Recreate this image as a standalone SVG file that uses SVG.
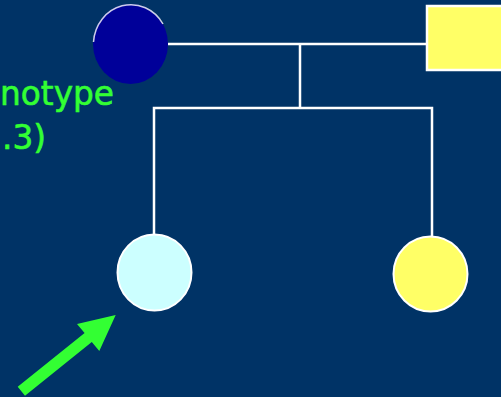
<svg xmlns="http://www.w3.org/2000/svg" width="501" height="397" viewBox="0 0 501 397">
<style>
.ln{stroke:#ffffff;stroke-width:2.5;fill:none}
.lbl{fill:#33ff33;font-family:"DejaVu Sans",sans-serif;font-size:34px;stroke:#33ff33;stroke-width:0.6}
</style>
<rect width="501" height="397" fill="#003366"/>
<g id="connectors">
<line class="ln" x1="168" y1="44" x2="427" y2="44"/>
<line class="ln" x1="300" y1="44" x2="300" y2="108"/>
<polyline class="ln" points="154,235 154,108 432,108 432,237"/>
</g>
<g id="mother">
<ellipse cx="130.5" cy="44" rx="37.5" ry="40" fill="#000099"/>
<path d="M93.5,42 A37.5,40 0 0 1 163,24" fill="none" stroke="#ffffff" stroke-width="1.5" stroke-opacity="0.8"/>
</g>
<g id="father">
<rect x="427" y="6" width="80" height="64" fill="#ffff66" stroke="#ffffff" stroke-width="2.5"/>
</g>
<g id="child1">
<ellipse cx="154.5" cy="272.5" rx="37" ry="38" fill="#ccffff" stroke="#ffffff" stroke-width="2"/>
</g>
<g id="child2">
<ellipse cx="430.5" cy="274" rx="37" ry="37.5" fill="#ffff66" stroke="#ffffff" stroke-width="2"/>
</g>
<g id="arrow">
<polygon points="17.7,386.7 84.6,333 77,324 115.7,315 99.3,351 91.8,342 25,395.7" fill="#33ff33"/>
</g>
<g id="label">
<text class="lbl" x="0" y="105" textLength="114" lengthAdjust="spacingAndGlyphs">notype</text>
<text class="lbl" x="2" y="149" textLength="44" lengthAdjust="spacingAndGlyphs">.3)</text>
</g>
</svg>
